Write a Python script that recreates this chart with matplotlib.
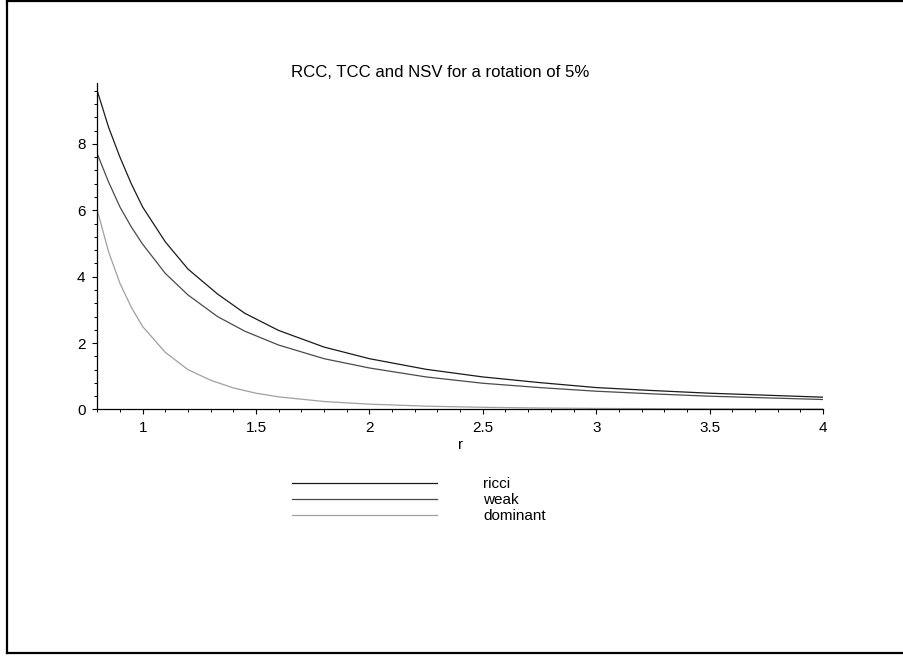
import matplotlib
matplotlib.use("Agg")
import matplotlib.pyplot as plt
import numpy as np
from matplotlib.lines import Line2D
from matplotlib.ticker import MultipleLocator

plt.rcParams['font.family'] = ['Liberation Sans', 'DejaVu Sans']

# values
r = [0.8, 0.85, 0.9, 0.95, 1.0, 1.1, 1.2, 1.33, 1.45, 1.6, 1.8, 2.0,
     2.25, 2.5, 2.75, 3.0, 3.25, 3.5, 3.75, 4.0]
ricci = [9.6, 8.5, 7.6, 6.8, 6.1, 5.05, 4.23, 3.48, 2.9, 2.38, 1.88, 1.53,
         1.21, 0.98, 0.81, 0.66, 0.57, 0.49, 0.43, 0.37]
weak = [7.7, 6.85, 6.1, 5.5, 4.98, 4.1, 3.45, 2.8, 2.36, 1.94, 1.53, 1.25,
        0.98, 0.79, 0.66, 0.55, 0.47, 0.40, 0.35, 0.30]

r_dom = [0.8, 0.85, 0.9, 0.95, 1.0, 1.1, 1.2, 1.3, 1.4, 1.5, 1.6, 1.8, 2.0,
         2.25, 2.5, 2.75, 3.0, 3.5, 4.0]
dominant = [6.0, 4.75, 3.8, 3.08, 2.5, 1.72, 1.2, 0.88, 0.65, 0.49, 0.38,
            0.24, 0.16, 0.10, 0.065, 0.045, 0.032, 0.018, 0.012]

title = "RCC, TCC and NSV for a rotation of 5%"

fig = plt.figure(figsize=(9.04, 6.56), dpi=100)
ax = fig.add_axes([0.1076, 0.3758, 0.8028, 0.4984])

l1, = ax.plot(r, ricci, color='#1a1a1a', lw=0.9, label='ricci')
l2, = ax.plot(r, weak, color='#4a4a4a', lw=0.9, label='weak')
l3, = ax.plot(r_dom, dominant, color='#a0a0a0', lw=0.9, label='dominant')

ax.set_xlim(0.8, 4)
ax.set_ylim(0, 9.85)

for s in ['top', 'right']:
    ax.spines[s].set_visible(False)
for s in ['left', 'bottom']:
    ax.spines[s].set_linewidth(0.9)

ax.set_xticks([1, 1.5, 2, 2.5, 3, 3.5, 4])
ax.set_xticklabels(['1', '1.5', '2', '2.5', '3', '3.5', '4'])
ax.set_yticks([0, 2, 4, 6, 8])
ax.xaxis.set_minor_locator(MultipleLocator(0.1))
ax.yaxis.set_minor_locator(MultipleLocator(0.4))
ax.tick_params(which='major', direction='out', length=3.5, width=0.8,
               labelsize=11, pad=5)
ax.tick_params(which='minor', direction='out', length=2.2, width=0.7)

ax.set_xlabel('r', fontsize=11, labelpad=2)

fig.text(0.487, 0.889, title, ha='center', va='center', fontsize=12.1)

ax.legend(handles=[l1, l2, l3], loc='upper left',
          bbox_to_anchor=(0.323, 0.2725), bbox_transform=fig.transFigure,
          frameon=False, fontsize=11, handlelength=9.5, handletextpad=3.0,
          labelspacing=0.12, borderpad=0, borderaxespad=0)

# outer frame (left, top, bottom edges)
fx0 = 7 / 904
fy_top = 1 - 1 / 656
fy_bot = 1 - 653 / 656
for xs, ys in [([fx0, fx0], [fy_bot, fy_top]),
               ([fx0, 1], [fy_top, fy_top]),
               ([fx0, 1], [fy_bot, fy_bot])]:
    fig.add_artist(Line2D(xs, ys, transform=fig.transFigure,
                          color='black', lw=1.6))

fig.savefig("out.png", dpi=100)
